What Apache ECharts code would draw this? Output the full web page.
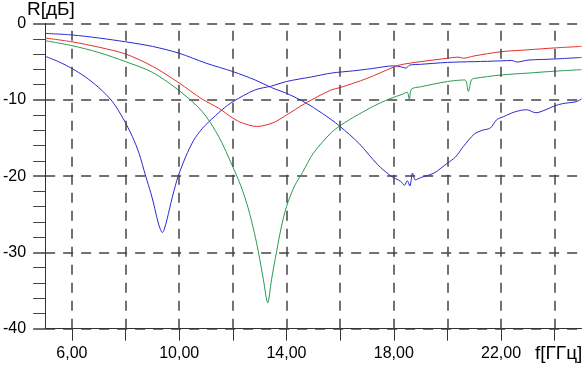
<!DOCTYPE html>
<html>
<head>
<meta charset="utf-8">
<script src="https://cdn.jsdelivr.net/npm/echarts@6/dist/echarts.min.js"></script>
<style>
html,body{margin:0;padding:0;background:#fff;}
#c{width:587px;height:369px;}
</style>
</head>
<body>
<div id="c"></div>
<script>
// ---- data (f in GHz, R in dB) ----
const blue1F = [5,5.5,6,6.5,7,7.5,7.9,8.25,8.5,8.75,8.94,9.06,9.2,9.3,9.37,9.44,9.55,9.74,9.86,9.96,10.25,10.54,10.85,11.1,11.6,12,12.83,13.44,14,14.93,15.67,16.5,17.2,18,18.3,18.45,18.6,19,20,21,22,22.4,22.6,23,24,25];
const blue1R = [-4.3,-5.0,-5.9,-7.0,-8.4,-10.2,-12.4,-14.8,-17.0,-20.0,-22.2,-23.8,-25.9,-27.0,-27.4,-27.0,-25.6,-22.8,-21.2,-20.0,-17.4,-15.3,-13.8,-12.9,-11.3,-10.25,-8.7,-8.2,-7.6,-7.0,-6.5,-6.2,-5.9,-5.55,-5.7,-5.85,-5.45,-5.35,-5.1,-5.0,-4.9,-4.85,-5.05,-4.8,-4.65,-4.45];

const blue2F = [5,6,7,8,9,10,11,12,12.83,13.44,14,14.56,15,15.67,16,16.7,17.4,17.9,18.26,18.4,18.5,18.6,18.7,18.8,19,19.5,20,20.3,20.6,21,21.3,21.6,21.84,22.1,22.5,22.95,23.3,23.6,24,24.3,24.8,25];
const blue2R = [-1.3,-1.5,-1.9,-2.4,-3.0,-3.9,-5.2,-6.3,-7.4,-8.4,-9.15,-10.1,-11.0,-12.6,-13.5,-15.7,-18.5,-20.0,-20.7,-21.2,-20.6,-21.3,-19.6,-20.5,-20.2,-19.6,-18.3,-17.5,-16.1,-14.5,-14.0,-13.7,-12.6,-12.2,-11.6,-11.3,-11.7,-11.4,-10.8,-10.5,-10.25,-9.9];

const redF = [5,6,7,8,9,10,10.85,11.47,12,12.33,12.89,13.5,14,14.68,15.67,16,17,18,18.26,19,20,20.4,20.6,21,22,23,24,25];
const redR = [-1.9,-2.4,-3.1,-4.0,-5.6,-7.8,-9.9,-11.1,-12.4,-13.0,-13.5,-13.0,-12.0,-10.5,-8.7,-8.4,-7.2,-5.7,-5.4,-5.0,-4.56,-4.4,-4.55,-4.25,-3.7,-3.45,-3.2,-3.0];

const greenF = [5,6,7,8,9,10,10.85,11.47,12,12.3,12.58,12.8,12.95,13.14,13.3,13.44,13.63,13.8,14,14.3,14.6,15,15.67,16,16.35,17,17.5,17.9,18.3,18.5,18.58,18.66,19,20,20.65,20.78,20.9,21,22,23,24,25];
const greenR = [-2.25,-2.9,-3.8,-5.0,-6.4,-8.8,-11.5,-14.8,-18.8,-21.3,-24.3,-27.4,-29.9,-33.6,-36.6,-33.6,-29.9,-26.8,-24.0,-21.3,-19.5,-17.0,-14.3,-13.4,-12.6,-11.3,-10.4,-9.8,-9.3,-9.0,-10.0,-8.6,-8.3,-7.6,-7.4,-8.9,-7.35,-7.2,-6.75,-6.5,-6.25,-6.05];

const xTicks = [6,8,10,12,14,16,18,20,22,24];
const xLabels = [6,10,14,18,22];
const yTitle = 'R[дБ]';
const xTitle = 'f[ГГц]';

const FONT = '"Liberation Sans", Arial, sans-serif';
const pairs = (f, r) => f.map((v, i) => [v, r[i]]);

const chart = echarts.init(document.getElementById('c'), null, {renderer: 'canvas'});
const lineS = (name, f, r, color) => ({
  name, type: 'line', data: pairs(f, r), showSymbol: false, smooth: 0.3,
  lineStyle: {color, width: 1}, itemStyle: {color}, animation: false, silent: true, z: 3
});

const s1 = lineS('b1', blue1F, blue1R, '#2a2ad0');
s1.markLine = {
  silent: true, symbol: ['none', 'none'], animation: false,
  label: {show: false},
  lineStyle: {type: [10, 8], color: '#444', width: 1.5},
  emphasis: {disabled: true},
  data: xTicks.map(v => ({xAxis: v}))
};

chart.setOption({
  animation: false,
  backgroundColor: '#fff',
  textStyle: {fontFamily: FONT},
  title: [
    {text: yTitle, left: 27, top: 0, padding: 0, textStyle: {fontFamily: FONT, fontSize: 19, fontWeight: 'normal', color: '#000'}},
    {text: xTitle, left: 535, top: 344, padding: 0, textStyle: {fontFamily: FONT, fontSize: 19, fontWeight: 'normal', color: '#000'}}
  ],
  grid: {left: 42.7, right: 5.5, top: 23.5, bottom: 40.3, containLabel: false},
  xAxis: {
    type: 'value', min: 5, max: 25,
    axisLine: {show: true, onZero: false, lineStyle: {color: '#333', width: 1}},
    axisTick: {show: true, customValues: xTicks, length: 12, lineStyle: {color: '#333', width: 1}},
    axisLabel: {customValues: xLabels, formatter: v => v.toFixed(2).replace('.', ','), fontSize: 16, color: '#000', fontFamily: FONT, margin: 17},
    splitLine: {show: false}
  },
  yAxis: {
    type: 'value', min: -40, max: 0, interval: 10,
    axisLine: {show: true, lineStyle: {color: '#333', width: 1}},
    axisTick: {show: true, length: 12, lineStyle: {color: '#444', width: 1.5}},
    minorTick: {show: true, splitNumber: 5, length: 12, lineStyle: {color: '#444', width: 1}},
    axisLabel: {fontSize: 16, color: '#000', fontFamily: FONT, margin: 19},
    splitLine: {show: true, lineStyle: {type: [10, 8], color: '#444', width: 1.5}}
  },
  series: [
    s1,
    lineS('b2', blue2F, blue2R, '#2a2ad0'),
    lineS('r', redF, redR, '#e3302c'),
    lineS('g', greenF, greenR, '#2a9a50')
  ]
});
</script>
</body>
</html>
